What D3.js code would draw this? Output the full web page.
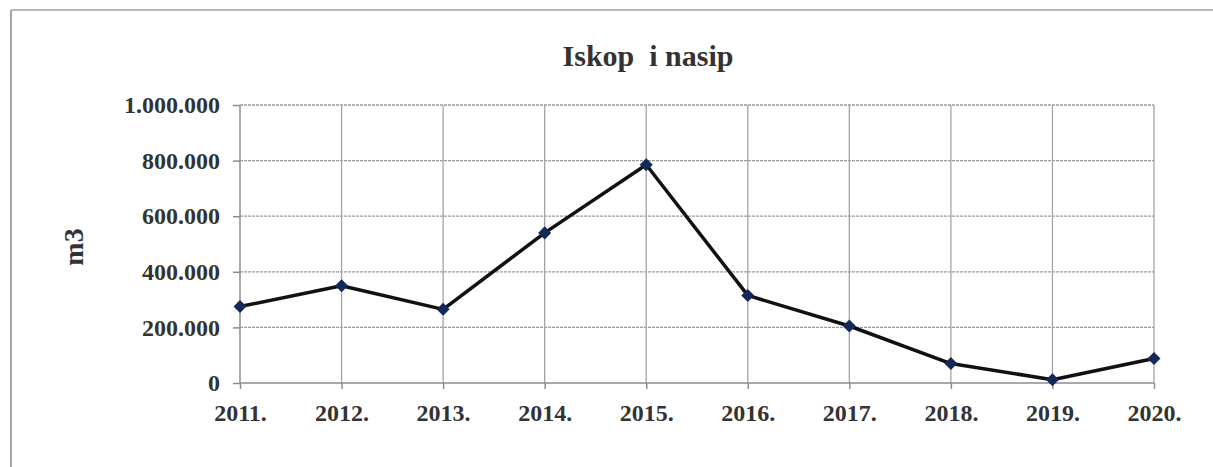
<!DOCTYPE html>
<html>
<head>
<meta charset="utf-8">
<script src="https://cdn.jsdelivr.net/npm/d3@7"></script>
<style>
  body { margin: 0; background: #fff; }
  text { font-family: "Liberation Serif", "Times New Roman", serif; font-weight: bold; }
</style>
</head>
<body>
<div id="chart"></div>
<script>
const years = ["2011.", "2012.", "2013.", "2014.", "2015.", "2016.", "2017.", "2018.", "2019.", "2020."]
const volumes = [275000, 350000, 265000, 540000, 785000, 315000, 205000, 70000, 12000, 88000]
const yTicks = [0, 200000, 400000, 600000, 800000, 1000000]

const width = 1213, height = 467
const plotLeft = 240, plotRight = 1154, plotTop = 105, plotBottom = 383
const serif = '"Liberation Serif", "Times New Roman", serif'

const svg = d3.select('#chart')
              .append('svg')
              .attr('width', width)
              .attr('height', height)

// frame of the scanned page
svg.append('line').attr('x1', 11).attr('x2', 11).attr('y1', 10).attr('y2', height)
   .attr('stroke', '#8a8a8a').attr('stroke-width', 1.5)
svg.append('line').attr('x1', 11).attr('x2', width).attr('y1', 10).attr('y2', 10)
   .attr('stroke', '#a0a0a0').attr('stroke-width', 1.5)

const x = d3.scalePoint().domain(years).range([plotLeft, plotRight])
const y = d3.scaleLinear().domain([0, 1000000]).range([plotBottom, plotTop])

const fmt = v => v === 0 ? "0" : d3.format(",")(v).replace(/,/g, ".")

// horizontal grid
svg.append('g')
   .selectAll('line')
   .data(yTicks.slice(1))
   .enter()
   .append('line')
   .attr('x1', plotLeft).attr('x2', plotRight)
   .attr('y1', d => y(d)).attr('y2', d => y(d))
   .attr('stroke', '#9a9a9a')
   .attr('stroke-width', 1.3)
   .attr('stroke-dasharray', '3,1')

// vertical grid
svg.append('g')
   .selectAll('line')
   .data(years.slice(1))
   .enter()
   .append('line')
   .attr('x1', d => x(d)).attr('x2', d => x(d))
   .attr('y1', plotTop).attr('y2', plotBottom)
   .attr('stroke', '#a4a4a4')
   .attr('stroke-width', 1.3)

// axes
const yAxis = svg.append('g')
   .attr('transform', `translate(${plotLeft},0)`)
   .call(d3.axisLeft(y).tickValues(yTicks).tickFormat(fmt).tickSize(7).tickPadding(13))
const xAxis = svg.append('g')
   .attr('transform', `translate(0,${plotBottom})`)
   .call(d3.axisBottom(x).tickSize(6).tickPadding(15))

;[yAxis, xAxis].forEach(a => {
  a.attr('font-family', serif).attr('font-size', 24)
  a.select('.domain').attr('stroke', '#8c8c8c').attr('stroke-width', 1.5)
  a.selectAll('.tick line').attr('stroke', '#8c8c8c').attr('stroke-width', 1.5)
  a.selectAll('text')
   .attr('fill', '#333')
   .style('font-size', '24px')
   .style('font-family', serif)
   .style('font-weight', 'bold')
})
xAxis.select('.domain').attr('d', `M${plotLeft},0H${plotRight}`)
yAxis.select('.domain').attr('d', `M0,${plotBottom}V${plotTop}`)

// title
svg.append('text')
   .attr('x', 648).attr('y', 66)
   .attr('text-anchor', 'middle')
   .attr('fill', '#333')
   .style('font-family', serif)
   .style('font-weight', 'bold')
   .style('font-size', '30px')
   .style('white-space', 'pre')
   .text('Iskop  i nasip')

// y label
svg.append('text')
   .attr('transform', 'translate(83,247) rotate(-90)')
   .attr('text-anchor', 'middle')
   .attr('fill', '#333')
   .style('font-family', serif)
   .style('font-weight', 'bold')
   .style('font-size', '28px')
   .text('m3')

// line
const line = d3.line()
  .x((d, i) => x(years[i]))
  .y(d => y(d))

svg.append('path')
   .datum(volumes)
   .attr('d', line)
   .attr('fill', 'none')
   .attr('stroke', '#111')
   .attr('stroke-width', 3.5)
   .attr('stroke-linejoin', 'round')

svg.append('g')
   .selectAll('path')
   .data(volumes)
   .enter()
   .append('path')
   .attr('d', d3.symbol(d3.symbolSquare, 85))
   .attr('transform', (d, i) => `translate(${x(years[i])},${y(d)}) rotate(45)`)
   .attr('fill', '#14285a')
</script>
</body>
</html>
